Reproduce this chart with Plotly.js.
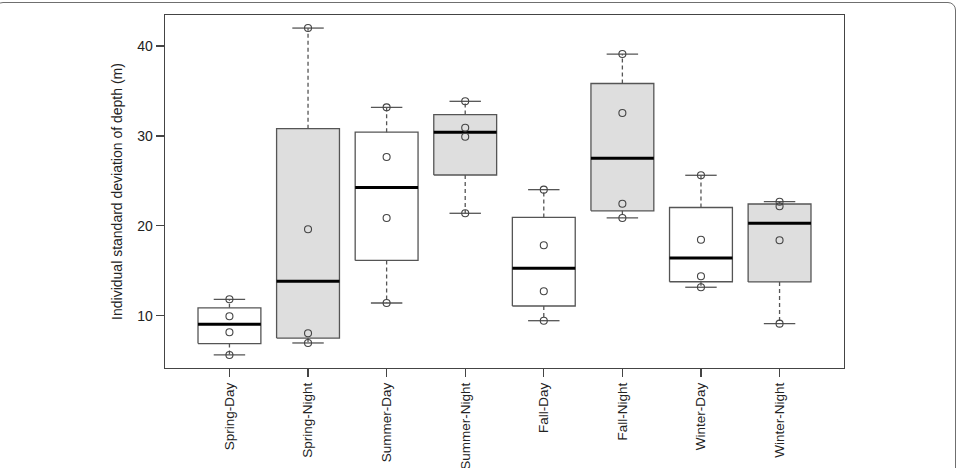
<!DOCTYPE html>
<html>
<head>
<meta charset="utf-8">
<script src="https://cdn.plot.ly/plotly-3.0.1.min.js"></script>
<style>
  html, body { margin: 0; padding: 0; background: #ffffff; overflow: hidden; }
  #wrap { position: relative; width: 961px; height: 468px; }
  #chart { position: absolute; left: 0; top: 0; width: 961px; height: 468px; }
  #frame {
    position: absolute; left: -5px; top: 2px; width: 961px; height: 520px;
    border: 1.5px solid #6f6f6f; border-radius: 8px; box-sizing: border-box;
    pointer-events: none;
  }
</style>
</head>
<body>
<div id="wrap">
  <div id="chart"></div>
  <div id="frame"></div>
</div>
<script>
// Individual standard deviation of depth (m), four individuals per season/period
const categories = ['Spring-Day', 'Spring-Night', 'Summer-Day', 'Summer-Night',
                    'Fall-Day', 'Fall-Night', 'Winter-Day', 'Winter-Night'];
const springDay   = [5.63, 8.15, 9.93, 11.82];
const springNight = [6.96, 8.04, 19.61, 42.0];
const summerDay   = [11.41, 20.87, 27.65, 33.18];
const summerNight = [21.39, 29.91, 30.91, 33.85];
const fallDay     = [9.44, 12.71, 17.83, 24.02];
const fallNight   = [20.87, 22.46, 32.55, 39.11];
const winterDay   = [13.16, 14.38, 18.45, 25.62];
const winterNight = [9.11, 18.39, 22.17, 22.68];
const yTicks = [10, 20, 30, 40];

const groups = [springDay, springNight, summerDay, summerNight,
                fallDay, fallNight, winterDay, winterNight];

// styling
const dayFill = '#ffffff';
const nightFill = '#dedede';
const boxLine = '#555555';
const textColor = '#222222';
const font = 'Liberation Sans, Arial, Helvetica, sans-serif';
const boxHalf = 0.4;   // box width 0.8 of the category spacing
const capHalf = 0.2;   // staple half as wide as the box

// Tukey five-number summary (hinges), as used by boxplot()
function fivenum(values) {
  const x = values.slice().sort((a, b) => a - b);
  const n = x.length;
  const n4 = Math.floor((n + 3) / 2) / 2;
  const d = [1, n4, (n + 1) / 2, n + 1 - n4, n];
  return d.map(p => 0.5 * (x[Math.floor(p) - 1] + x[Math.ceil(p) - 1]));
}

function boxStats(values) {
  const f = fivenum(values);
  const iqr = f[3] - f[1];
  const inside = values.filter(v => v >= f[1] - 1.5 * iqr && v <= f[3] + 1.5 * iqr);
  return {
    q1: f[1], med: f[2], q3: f[3],
    lo: Math.min.apply(null, inside), hi: Math.max.apply(null, inside)
  };
}

const traces = [];
const medX = [], medY = [], whX = [], whY = [], capX = [], capY = [], ptX = [], ptY = [];

groups.forEach((vals, i) => {
  const c = i + 1;
  const s = boxStats(vals);
  traces.push({
    type: 'scatter', mode: 'lines', hoverinfo: 'skip', showlegend: false,
    x: [c - boxHalf, c + boxHalf, c + boxHalf, c - boxHalf, c - boxHalf],
    y: [s.q1, s.q1, s.q3, s.q3, s.q1],
    fill: 'toself', fillcolor: (i % 2 === 0) ? dayFill : nightFill,
    line: { color: boxLine, width: 1.3 }
  });
  medX.push(c - boxHalf, c + boxHalf, null);
  medY.push(s.med, s.med, null);
  whX.push(c, c, null, c, c, null);
  whY.push(s.q3, s.hi, null, s.q1, s.lo, null);
  capX.push(c - capHalf, c + capHalf, null, c - capHalf, c + capHalf, null);
  capY.push(s.hi, s.hi, null, s.lo, s.lo, null);
  vals.forEach(v => { ptX.push(c); ptY.push(v); });
});

traces.push({
  type: 'scatter', mode: 'lines', hoverinfo: 'skip', showlegend: false,
  x: whX, y: whY, line: { color: boxLine, width: 1.3, dash: '4px,3px' }
});
traces.push({
  type: 'scatter', mode: 'lines', hoverinfo: 'skip', showlegend: false,
  x: capX, y: capY, line: { color: boxLine, width: 1.3 }
});
traces.push({
  type: 'scatter', mode: 'lines', hoverinfo: 'skip', showlegend: false,
  x: medX, y: medY, line: { color: '#000000', width: 3 }
});
traces.push({
  type: 'scatter', mode: 'markers', showlegend: false,
  x: ptX, y: ptY,
  marker: { symbol: 'circle-open', size: 7, color: '#444444', line: { width: 1.1 } }
});

// data ranges padded by 4% on each side
const allVals = [].concat.apply([], groups);
const yMin = Math.min.apply(null, allVals), yMax = Math.max.apply(null, allVals);
const yPad = 0.04 * (yMax - yMin);
const xLo = 0.5, xHi = categories.length + 0.5;
const xPad = 0.04 * (xHi - xLo);

const layout = {
  width: 961, height: 468,
  margin: { l: 165, r: 117, t: 15, b: 100 },
  paper_bgcolor: '#ffffff', plot_bgcolor: '#ffffff',
  font: { family: font, size: 13.5, color: textColor },
  showlegend: false,
  xaxis: {
    range: [xLo - xPad, xHi + xPad],
    tickmode: 'array', tickvals: categories.map((_, i) => i + 1), ticktext: categories,
    tickangle: -90, ticks: 'outside', ticklen: 8, tickwidth: 1.2, tickcolor: '#444444',
    tickfont: { family: font, size: 13.5, color: textColor },
    showline: true, mirror: true, linecolor: '#444444', linewidth: 1.3,
    showgrid: false, zeroline: false
  },
  yaxis: {
    range: [yMin - yPad, yMax + yPad],
    tickmode: 'array', tickvals: yTicks, ticktext: yTicks.map(String),
    ticks: 'outside', ticklen: 8, tickwidth: 1.2, tickcolor: '#444444',
    tickfont: { family: font, size: 14, color: textColor },
    showline: true, mirror: true, linecolor: '#444444', linewidth: 1.3,
    showgrid: false, zeroline: false,
    title: { text: 'Individual standard deviation of depth (m)', standoff: 11,
             font: { family: font, size: 14, color: textColor } }
  }
};

Plotly.newPlot('chart', traces, layout, { staticPlot: true, displayModeBar: false });
</script>
</body>
</html>
